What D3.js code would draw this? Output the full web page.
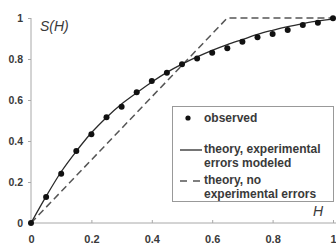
<!DOCTYPE html>
<html><head><meta charset="utf-8">
<script src="https://cdn.jsdelivr.net/npm/d3@7"></script>
<style>body{margin:0;background:#fff}svg{display:block}</style>
</head><body>
<script>
const xTicks = [0, 0.2, 0.4, 0.6, 0.8, 1];
const yTicks = [0, 0.2, 0.4, 0.6, 0.8, 1];
const xTickLabels = ["0", "0.2", "0.4", "0.6", "0.8", "1"];
const yTickLabels = ["0", "0.2", "0.4", "0.6", "0.8", "1"];
const obsH = [0,0.05,0.1,0.15,0.2,0.25,0.3,0.35,0.4,0.45,0.5,0.55,0.6,0.65,0.7,0.75,0.8,0.85,0.9,0.95,1.0];
const obsS = [0,0.127,0.24,0.351,0.433,0.516,0.567,0.638,0.693,0.733,0.774,0.803,0.831,0.852,0.884,0.906,0.922,0.941,0.966,0.977,0.999];
const modelH = [0,0.05,0.1,0.15,0.2,0.25,0.3,0.35,0.4,0.45,0.5,0.55,0.6,0.65,0.7,0.75,0.8,0.85,0.9,0.95,1.0];
const modelS = [0,0.13,0.25,0.35,0.44,0.515,0.58,0.635,0.688,0.735,0.775,0.81,0.842,0.87,0.895,0.92,0.94,0.958,0.973,0.986,0.995];
const idealH = [0, 0.65, 1];
const idealS = [0, 1, 1];
const legendLabels = [["observed"], ["theory, experimental", "errors modeled"], ["theory, no", "experimental errors"]];

const W = 336, H = 245;
const svg = d3.select("body").append("svg").attr("width", W).attr("height", H);
const x = d3.scaleLinear().domain([0, 1]).range([31, 333]);
const y = d3.scaleLinear().domain([0, 1]).range([223, 18]);
const ink = "#2a2a2a", axisCol = "#a8a8a8", txt = "#3a3a3a";
const font = "Liberation Sans, Arial, sans-serif";

// axes
const xAxis = svg.append("g").attr("transform", `translate(0,${y(0)})`)
  .call(d3.axisBottom(x).tickValues(xTicks).tickSize(-3).tickFormat((d,i)=>xTickLabels[i]));
xAxis.select(".domain").attr("stroke", axisCol).attr("d", `M${x(0)},0H${x(1)+3}`);
xAxis.selectAll(".tick line").attr("stroke", axisCol);
xAxis.selectAll(".tick text").attr("y", 12).attr("fill", txt).style("font", `bold 11px ${font}`);

const yAxis = svg.append("g").attr("transform", `translate(${x(0)},0)`)
  .call(d3.axisLeft(y).tickValues(yTicks).tickSize(3).tickFormat((d,i)=>yTickLabels[i]));
yAxis.select(".domain").attr("stroke", axisCol).attr("d", `M0,${y(1)}V${y(0)}`);
yAxis.selectAll(".tick line").attr("stroke", axisCol);
yAxis.selectAll(".tick text").attr("x", -8).attr("fill", txt).style("font", `bold 10.5px ${font}`);

// lines
const line = d3.line().x(d=>x(d[0])).y(d=>y(d[1]));
svg.append("path").datum(idealH.map((h,i)=>[h, idealS[i]]))
  .attr("d", line).attr("fill","none").attr("stroke","#555").attr("stroke-width",1.5).attr("stroke-dasharray","7,4");
svg.append("path").datum(modelH.map((h,i)=>[h, modelS[i]]))
  .attr("d", line.curve(d3.curveMonotoneX)).attr("fill","none").attr("stroke",ink).attr("stroke-width",1.3);

svg.selectAll("circle.obs").data(obsH.map((h,i)=>[h, obsS[i]])).join("circle")
  .attr("class","obs").attr("cx", d=>x(d[0])).attr("cy", d=>y(d[1])).attr("r", 3).attr("fill", "#111");

// axis titles
svg.append("text").attr("x", 40).attr("y", 31).attr("fill",txt)
  .style("font", `italic 14px ${font}`).text("S(H)");
svg.append("text").attr("x", 313).attr("y", 216).attr("fill",txt)
  .style("font", `italic 14px ${font}`).text("H");

// legend
const lg = svg.append("g");
lg.append("rect").attr("x", 172.5).attr("y", 106.5).attr("width", 161).attr("height", 95)
  .attr("fill","#fff").attr("stroke","#999").attr("stroke-width",1);
lg.append("circle").attr("cx", 188).attr("cy", 118).attr("r", 2.6).attr("fill","#111");
lg.append("line").attr("x1",180).attr("x2",202).attr("y1",150).attr("y2",150).attr("stroke",ink).attr("stroke-width",1.3);
lg.append("line").attr("x1",180).attr("x2",202).attr("y1",181).attr("y2",181).attr("stroke","#555").attr("stroke-width",1.5).attr("stroke-dasharray","7,6");
const rows = [[122], [153, 167], [184, 198]];
legendLabels.forEach((lab, i) => {
  lab.forEach((t, j) => {
    lg.append("text").attr("x", 204).attr("y", rows[i][j]).attr("fill",txt)
      .style("font", `bold 12px ${font}`).text(t);
  });
});
</script>
</body></html>
